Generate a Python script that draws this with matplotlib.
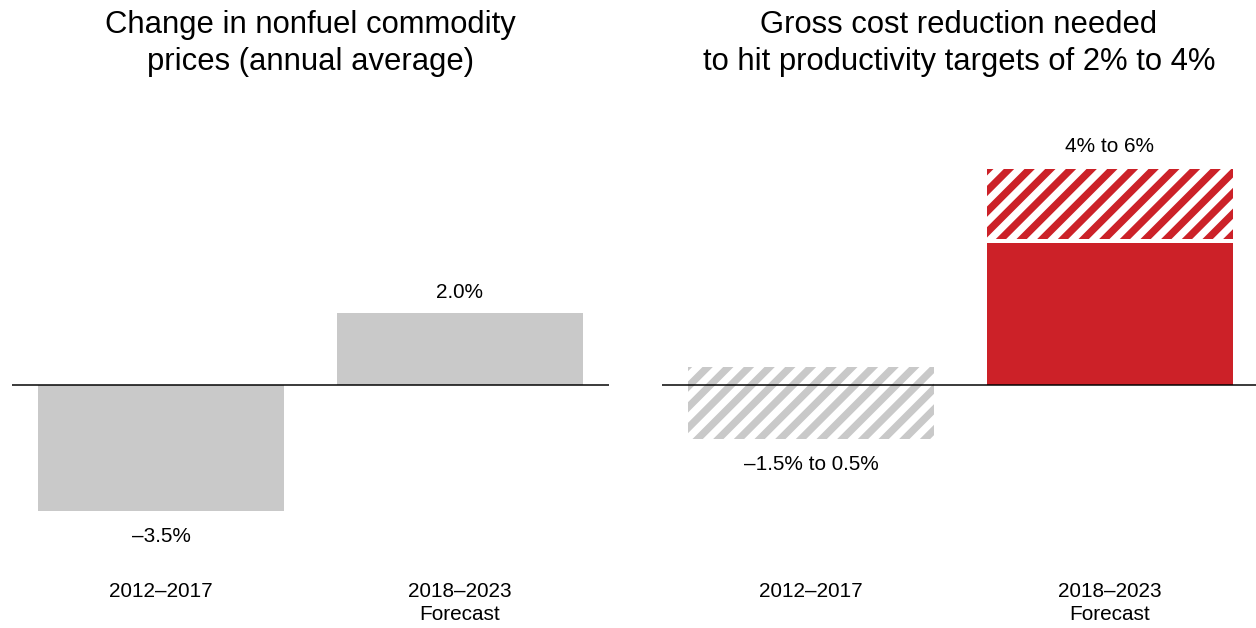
import matplotlib
matplotlib.use("Agg")
import matplotlib.pyplot as plt

# ---- data ----
periods = ["2012–2017", "2018–2023\nForecast"]
price_change = [-3.5, 2.0]
price_labels = ["–3.5%", "2.0%"]

cost_solid = [0.0, 4.0]
cost_range_low = [-1.5, 4.0]
cost_range_high = [0.5, 6.0]
cost_labels = ["–1.5% to 0.5%", "4% to 6%"]

titles = ["Change in nonfuel commodity\nprices (annual average)",
          "Gross cost reduction needed\nto hit productivity targets of 2% to 4%"]

GRAY = "#c9c9c9"
RED = "#cc2128"
bar_colors = [GRAY, RED]

DPI = 124.0
W, H = 1256, 628


def pt(px):
    return px * 72.0 / DPI


plt.rcParams['font.family'] = ['Liberation Sans', 'DejaVu Sans']
plt.rcParams['hatch.linewidth'] = pt(7.3)

fig = plt.figure(figsize=(W / DPI, H / DPI), dpi=DPI)

ylo, yhi = -4.5, 7.0
px_per_unit = 36
y0_px = 385
bottom_px = y0_px + (-ylo) * px_per_unit
top_px = y0_px - yhi * px_per_unit
ax_b = (H - bottom_px) / H
ax_h = (bottom_px - top_px) / H

axL = fig.add_axes([12 / W, ax_b, 597 / W, ax_h])
axR = fig.add_axes([662 / W, ax_b, 597 / W, ax_h])

x = [0, 1]
bw = 0.824
LBL = pt(20.7)

# left panel
axL.bar(x, price_change, width=bw, color=GRAY, linewidth=0)
for xi, v, lab in zip(x, price_change, price_labels):
    off = pt(21) if v > 0 else pt(-25)
    axL.annotate(lab, (xi, v), xytext=(0, off), textcoords="offset points",
                 ha="center", va="center", fontsize=LBL)

# right panel
for xi, s, lo, hi, c in zip(x, cost_solid, cost_range_low, cost_range_high, bar_colors):
    axR.bar(xi, hi - lo, bottom=lo, width=bw, facecolor="white", edgecolor=c,
            hatch="//", linewidth=0)
    if s != 0:
        rect = axR.bar(xi, s, width=bw, color=c, linewidth=0)[0]
        rx = rect.get_x()
        axR.plot([rx, rx + rect.get_width()], [s, s], color="white", lw=pt(4.0),
                 solid_capstyle="butt", zorder=4)
for xi, lo, hi, lab in zip(x, cost_range_low, cost_range_high, cost_labels):
    if lo >= 0:
        axR.annotate(lab, (xi, hi), xytext=(0, pt(22)), textcoords="offset points",
                     ha="center", va="center", fontsize=LBL)
    else:
        axR.annotate(lab, (xi, lo), xytext=(0, pt(-25)), textcoords="offset points",
                     ha="center", va="center", fontsize=LBL)

for ax, t in zip([axL, axR], titles):
    ax.set_xlim(-0.5, 1.5)
    ax.set_ylim(ylo, yhi)
    ax.axhline(0, color="black", linewidth=pt(1.5), zorder=5)
    for sp in ax.spines.values():
        sp.set_visible(False)
    ax.set_yticks([])
    ax.set_xticks(x)
    ax.set_xticklabels(periods, fontsize=LBL, linespacing=1.26)
    ax.tick_params(axis="x", length=0, pad=pt(35))
    ax.patch.set_alpha(0)
    bb = ax.get_position()
    cx = (bb.x0 + 1) / 2 if bb.x1 > 1 else bb.x0 + bb.width / 2
    fig.text(cx, 1 - 10 / H, t, ha="center", va="top",
             fontsize=pt(31), linespacing=1.3)

fig.savefig("out.png", dpi=DPI)
